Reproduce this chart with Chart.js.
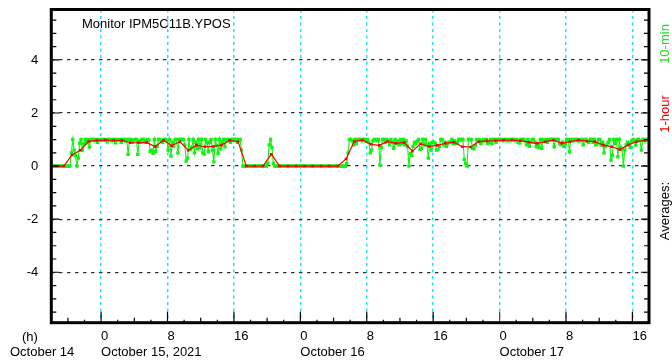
<!DOCTYPE html>
<html>
<head>
<meta charset="utf-8">
<script src="https://cdn.jsdelivr.net/npm/chart.js@4.4.1/dist/chart.umd.min.js"></script>
<style>
  html, body { margin: 0; padding: 0; background: #fff; }
  #wrap { width: 672px; height: 362px; position: relative; }
</style>
</head>
<body>
<div id="wrap"><canvas id="ypos"></canvas></div>
<script>
// time axis: hours counted from Oct 14, 18:00
const startHour = 18;
const spanHours = 72;
const dayNames = ['October 14', 'October 15, 2021', 'October 16', 'October 17'];
const markerHour = 54; // Oct 17, 0:00

// 1-hour averages
const hourOct14 = [0, 0, 0.42, 0.6, 0.93, 0.97];
const hourOct15 = [0.98, 0.97, 0.97, 0.88, 0.88, 0.89, 0.73, 0.97, 0.77, 0.92, 0.6, 0.79,
                   0.73, 0.74, 0.79, 0.97, 0.92, 0, 0, 0, 0.45, 0, 0, 0];
const hourOct16 = [0, 0, 0, 0, 0, 0.27, 0.93, 0.98, 0.82, 0.78, 0.93, 0.86,
                   0.89, 0.56, 0.84, 0.74, 0.78, 0.86, 0.9, 0.73, 0.72, 0.92, 0.95, 0.96];
const hourOct17 = [0.98, 0.98, 0.96, 0.9, 0.86, 0.92, 0.98, 0.86, 0.92, 0.98, 0.94, 0.92,
                   0.79, 0.73, 0.62, 0.8, 0.92, 0.97];

// 10-min averages, six per hour
const tenMinOct14 = [
  0, 0, 0, 0, 0, 0,
  0, 0, 0, 0, 0, 0,
  0, 0, 0.5, 1, 0.6, 0.4,
  0, 0.3, 0.86, 1, 0.6, 0.85,
  1, 0.88, 1, 0.72, 1, 1,
  1, 0.95, 1, 0.9, 1, 0.97
];
const tenMinOct15 = [
  1, 1, 0.98, 1, 0.92, 1,
  1, 0.95, 1, 1, 0.88, 1,
  0.98, 1, 0.9, 1, 1, 0.95,
  1, 0.44, 1, 1, 0.9, 0.98,
  1, 1, 0.44, 0.95, 0.9, 1,
  1, 0.95, 0.9, 1, 0.98, 0.55,
  0.6, 0.48, 1, 0.55, 0.75, 1,
  1, 0.95, 0.9, 1, 1, 0.98,
  0.6, 1, 0.38, 0.9, 0.75, 1,
  1, 0.5, 1, 1, 1, 1,
  0.8, 0.19, 0.3, 1, 0.62, 0.7,
  1, 0.5, 0.9, 0.65, 1, 0.7,
  1, 0.5, 0.45, 1, 0.88, 0.55,
  0.9, 1, 0.6, 0.16, 1, 0.78,
  0.48, 1, 0.65, 0.9, 1, 0.73,
  1, 0.95, 1, 0.9, 1, 1,
  1, 1, 0.9, 1, 1, 0.6,
  0, 0, 0, 0, 0, 0,
  0, 0, 0, 0, 0, 0,
  0, 0, 0, 0, 0, 0,
  0.1, 0.8, 1, 0.7, 0.1, 0,
  0, 0, 0, 0, 0, 0,
  0, 0, 0, 0, 0, 0,
  0, 0, 0, 0, 0, 0
];
const tenMinOct16 = [
  0, 0, 0, 0, 0, 0,
  0, 0, 0, 0, 0, 0,
  0, 0, 0, 0, 0, 0,
  0, 0, 0, 0, 0, 0,
  0, 0, 0, 0, 0, 0,
  0, 0, 0, 0.1, 0.5, 1,
  1, 0.95, 0.8, 1, 0.85, 1,
  1, 1, 0.95, 1, 1, 0.93,
  1, 0.9, 0.5, 0.6, 0.95, 1,
  1, 0.95, 1, 0.04, 0.7, 1,
  1, 0.9, 1, 0.95, 0.8, 1,
  0.9, 0.67, 1, 0.85, 0.95, 0.8,
  1, 0.85, 1, 0.8, 0.95, 0.75,
  0, 0.48, 0.4, 0.75, 0.9, 0.85,
  0.95, 1, 0.62, 0.67, 1, 0.8,
  1, 0.8, 0.3, 0.85, 0.6, 0.9,
  0.9, 0.85, 0.6, 0.62, 0.75, 1,
  1, 0.8, 0.9, 0.75, 0.85, 0.9,
  0.9, 1, 0.85, 0.95, 0.85, 0.9,
  1, 1, 1, 1, 0.25, 0.1,
  0, 1, 1, 1, 0.67, 0.65,
  0.79, 1, 0.95, 1, 0.85, 0.95,
  1, 0.95, 1, 0.85, 0.9, 1,
  0.85, 1, 1, 0.9, 1, 1
];
const tenMinOct17 = [
  1, 1, 0.95, 1, 1, 0.95,
  1, 0.95, 1, 1, 1, 0.95,
  1, 0.9, 0.87, 1, 1, 1,
  0.95, 0.8, 1, 0.75, 0.9, 1,
  1, 0.9, 0.73, 0.85, 0.7, 1,
  0.67, 1, 0.95, 1, 0.9, 1,
  1, 1, 1, 0.73, 1, 1,
  1, 0.85, 0.8, 0.9, 0.75, 0.85,
  1, 1, 0.54, 1, 1, 0.95,
  1, 1, 0.95, 1, 0.95, 1,
  0.8, 1, 1, 0.95, 0.9, 1,
  1, 0.9, 1, 0.8, 0.85, 1,
  1, 0.79, 0.9, 0.5, 0.75, 0.8,
  0.9, 1, 0.23, 0.4, 1, 0.85,
  1, 0.35, 1, 0.7, 0.65, 0,
  0.6, 0.8, 0.9, 0.85, 0.7, 0.95,
  1, 0.95, 0.79, 1, 1, 0.95,
  0.6, 1, 1, 0.95, 1, 1
];

const yTicks = [-4, -2, 0, 2, 4];

const hourly = [...hourOct14, ...hourOct15, ...hourOct16, ...hourOct17]
  .map((v, i) => ({ x: i + 0.5, y: v }));
const tenMin = [...tenMinOct14, ...tenMinOct15, ...tenMinOct16, ...tenMinOct17]
  .map((v, i) => ({ x: (i + 0.5) / 6, y: v }));

const FONT = "'Liberation Sans', Arial, Helvetica, sans-serif";
Chart.defaults.font.family = FONT;
Chart.defaults.font.size = 13;
Chart.defaults.color = '#000';

// keep the label overhang from shrinking the plot area
const noOverhang = s => {
  s.paddingTop = 0; s.paddingBottom = 0;
  s.paddingLeft = 0; s.paddingRight = 0;
};

// frame, inward tick marks and the free text around the plot
const decorations = {
  id: 'decorations',
  afterDraw(chart) {
    const { ctx, chartArea: a, scales: { x, y } } = chart;
    ctx.save();
    ctx.lineWidth = 1.2;

    for (let h = 0; h <= spanHours; h += 2) {
      const px = x.getPixelForValue(h);
      const hod = (h + startHour) % 24;
      const len = hod % 8 === 0 ? 11 : (hod % 4 === 0 ? 5 : 3);
      ctx.strokeStyle = h === markerHour ? '#e00000' : '#000';
      ctx.beginPath();
      ctx.moveTo(px, a.bottom);
      ctx.lineTo(px, a.bottom - len);
      ctx.stroke();
    }

    ctx.strokeStyle = '#000';
    for (let v = -5.5; v <= 5.5; v += 0.5) {
      const py = y.getPixelForValue(v);
      const len = v % 2 === 0 ? 8 : 5;
      ctx.beginPath();
      ctx.moveTo(a.left, py);
      ctx.lineTo(a.left + len, py);
      ctx.moveTo(a.right, py);
      ctx.lineTo(a.right - len, py);
      ctx.stroke();
    }

    ctx.lineWidth = 3;
    ctx.strokeRect(a.left, a.top, a.right - a.left, a.bottom - a.top);

    ctx.font = '13px ' + FONT;
    ctx.fillStyle = '#000';
    ctx.textBaseline = 'middle';
    ctx.textAlign = 'left';
    ctx.fillText('Monitor IPM5C11B.YPOS', 82, 24);
    ctx.fillText('(h)', 22, 337);
    ctx.fillText('October 14', 10, 352.6);

    const side = [['Averages:', 211, '#000'], ['1-hour', 114, '#ee0000'], ['10-min', 44, '#22dd22']];
    ctx.textAlign = 'center';
    side.forEach(([text, cy, color]) => {
      ctx.save();
      ctx.translate(665, cy);
      ctx.rotate(-Math.PI / 2);
      ctx.fillStyle = color;
      ctx.fillText(text, 0, 0);
      ctx.restore();
    });
    ctx.restore();
  }
};

new Chart(document.getElementById('ypos'), {
  type: 'line',
  data: {
    datasets: [{
      label: '1-hour',
      data: hourly,
      borderColor: 'rgb(250,0,0)',
      backgroundColor: 'rgb(250,0,0)',
      borderWidth: 1.2,
      pointStyle: 'rect',
      pointRadius: 1.8,
      pointBorderWidth: 0,
      tension: 0
    }, {
      label: '10-min',
      data: tenMin,
      borderColor: 'rgb(20,240,20)',
      backgroundColor: 'rgb(20,240,20)',
      borderWidth: 1.1,
      pointStyle: 'rect',
      pointRadius: 2.4,
      pointBorderWidth: 0,
      tension: 0
    }]
  },
  options: {
    responsive: true,
    maintainAspectRatio: false,
    animation: false,
    layout: { padding: { left: 0, right: 23, top: 9.5, bottom: 0 } },
    plugins: { legend: { display: false }, tooltip: { enabled: false } },
    scales: {
      x: {
        type: 'linear',
        min: 0,
        max: spanHours,
        afterFit: s => { s.height = 39.3; noOverhang(s); },
        afterBuildTicks: s => {
          const t = [];
          for (let h = 0; h <= spanHours; h++) {
            if ((h + startHour) % 8 === 0) t.push({ value: h });
          }
          s.ticks = t;
        },
        ticks: {
          autoSkip: false,
          maxRotation: 0,
          align: 'start',
          padding: 6,
          font: { size: 13, lineHeight: 1.2 },
          callback: v => {
            const hod = (v + startHour) % 24;
            const day = Math.floor((v + startHour) / 24);
            return hod === 0 ? [String(hod), dayNames[day]] : String(hod);
          }
        },
        grid: { color: '#22e0f0', lineWidth: 1.5, drawTicks: false },
        border: { display: false, dash: [3, 3.5] }
      },
      y: {
        min: -5.9,
        max: 5.9,
        afterFit: s => { s.width = 51.3; noOverhang(s); },
        afterBuildTicks: s => { s.ticks = yTicks.map(v => ({ value: v })); },
        ticks: { padding: 13, font: { size: 13 } },
        grid: { color: '#333', lineWidth: 1.3, drawTicks: false },
        border: { display: false, dash: [3.5, 4.5] }
      }
    }
  },
  plugins: [decorations]
});
</script>
</body>
</html>
